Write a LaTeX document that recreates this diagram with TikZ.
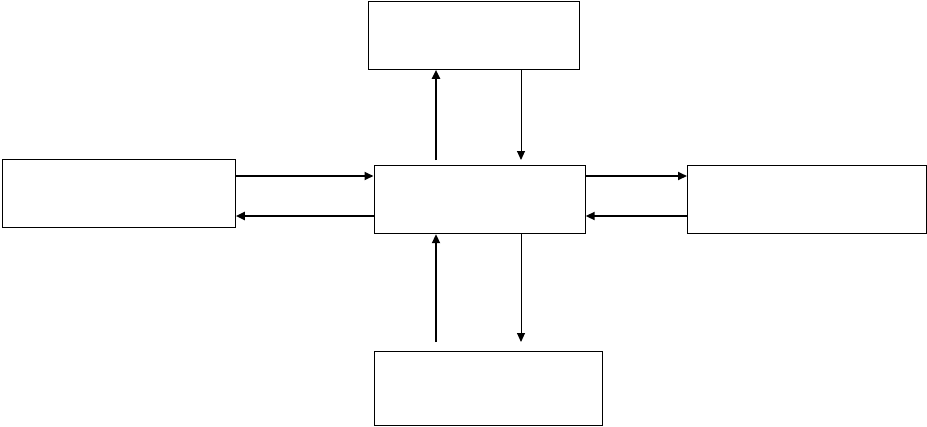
\documentclass[tikz,border=0pt]{standalone}
\usetikzlibrary{arrows.meta}
\begin{document}
\begin{tikzpicture}[x=1pt,y=-1pt,
  box/.style={draw=black,line width=1.2pt,fill=white,inner sep=0pt,anchor=north west},
  thickarrow/.style={line width=2pt,-{Triangle[length=9pt,width=8pt]}},
  thinarrow/.style={line width=1pt,-{Triangle[length=9pt,width=8pt]}}]
\useasboundingbox[fill=white] (0,0) rectangle (927,426);
\node[box,minimum width=211pt,minimum height=68pt] (top) at (367.5,0.6) {};
\node[box,minimum width=233pt,minimum height=68pt] (left) at (1.6,159) {};
\node[box,minimum width=211pt,minimum height=68.5pt] (center) at (373.5,164.5) {};
\node[box,minimum width=238.5pt,minimum height=68pt] (right) at (687,164.5) {};
\node[box,minimum width=228pt,minimum height=74pt] (bottom) at (373.5,350.5) {};
\coordinate (upstart) at (436,160);
\coordinate (downend) at (521,160);
\coordinate (bupstart) at (436,342);
\coordinate (bdownend) at (521,342);
% vertical top
\draw[thickarrow] (upstart) -- (upstart |- top.south);
\draw[thinarrow] (downend |- top.south) -- (downend);
% horizontal left
\draw[thickarrow] (left.east |- 0,176) -- (center.west |- 0,176);
\draw[thickarrow] (center.west |- 0,216) -- (left.east |- 0,216);
% horizontal right
\draw[thickarrow] (center.east |- 0,176) -- (right.west |- 0,176);
\draw[thickarrow] (right.west |- 0,216) -- (center.east |- 0,216);
% vertical bottom
\draw[thickarrow] (bupstart) -- (bupstart |- center.south);
\draw[thinarrow] (bdownend |- center.south) -- (bdownend);
\end{tikzpicture}
\end{document}
